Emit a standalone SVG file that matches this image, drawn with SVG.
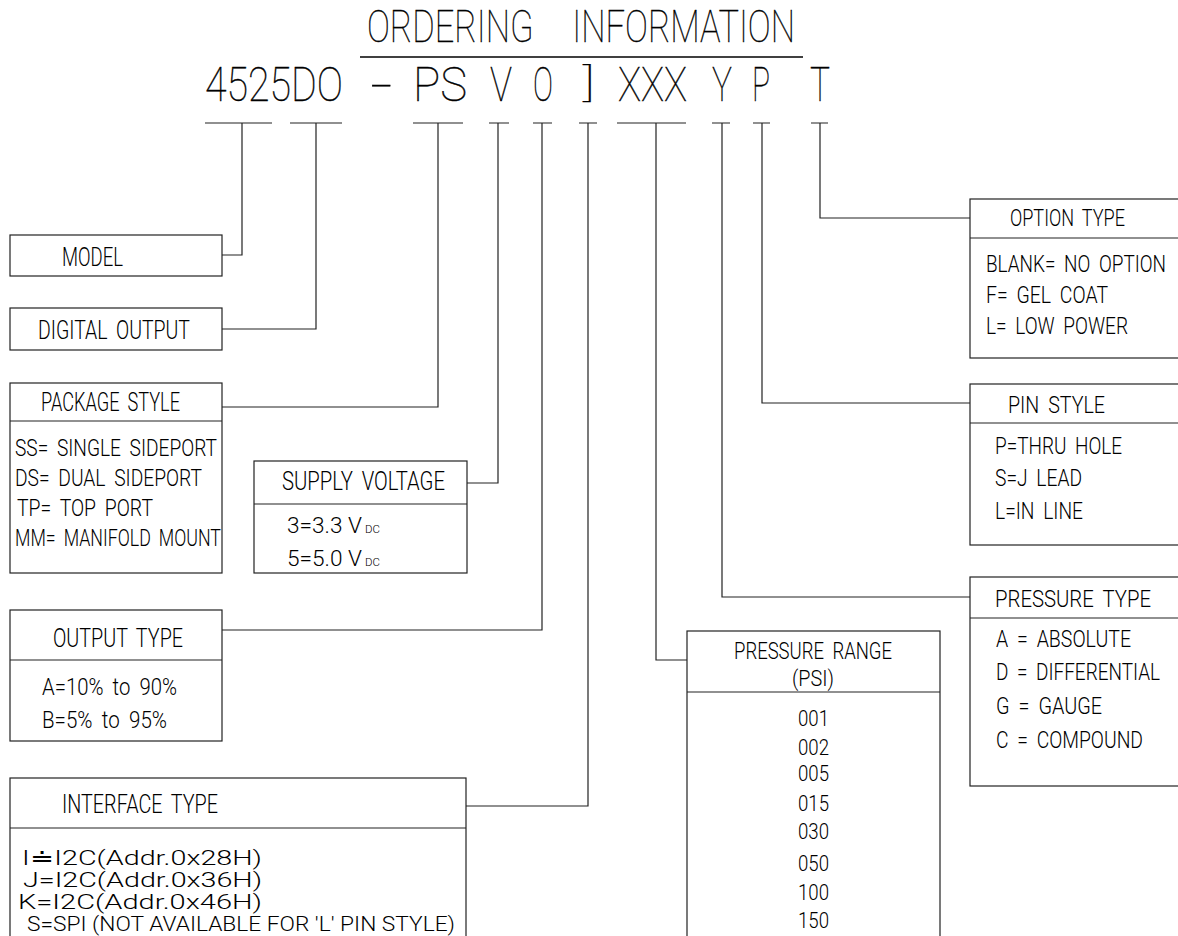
<svg xmlns="http://www.w3.org/2000/svg" width="1178" height="936" viewBox="0 0 1178 936">
<style>
text{font-family:Roboto,"Liberation Sans",sans-serif;font-weight:300;fill:#000}
.ti{font-size:45px;font-weight:100;stroke:#000;stroke-width:0.35;word-spacing:40px}
.cd{font-size:38px;font-weight:100;stroke:#000;stroke-width:0.3}
.h{font-size:26px;word-spacing:5px}
.i{font-size:24px;word-spacing:5px}
.w{font-size:19px;word-spacing:4px}
.n{font-size:22px}
.f{font-size:21px}
.s{font-size:10px}
.box rect,.box line{fill:#fff;stroke:#222;stroke-width:1.2}
#connectors path{fill:none;stroke:#222;stroke-width:1.2}
</style>
<rect width="1178" height="936" fill="#fff"/>
<g id="title">
<text class="ti" x="367" y="42" textLength="428" lengthAdjust="spacingAndGlyphs">ORDERING INFORMATION</text>
<line x1="360" y1="57" x2="803" y2="57" stroke="#000" stroke-width="1.4"/>
</g>
<g id="code">
<text class="cd" transform="translate(205 101) scale(1 1.263)" textLength="138" lengthAdjust="spacingAndGlyphs">4525DO</text>
<text class="cd" transform="translate(370 101) scale(1 1.263)" textLength="23" lengthAdjust="spacingAndGlyphs">-</text>
<text class="cd" transform="translate(413 101) scale(1 1.263)" textLength="54" lengthAdjust="spacingAndGlyphs">PS</text>
<text class="cd" transform="translate(490 101) scale(1 1.263)" textLength="22" lengthAdjust="spacingAndGlyphs">V</text>
<text class="cd" transform="translate(533 101) scale(1 1.263)" textLength="20" lengthAdjust="spacingAndGlyphs">O</text>
<text class="cd" transform="translate(583 96)" textLength="12" lengthAdjust="spacingAndGlyphs">]</text>
<text class="cd" transform="translate(618 101) scale(1 1.263)" textLength="69" lengthAdjust="spacingAndGlyphs">XXX</text>
<text class="cd" transform="translate(712 101) scale(1 1.263)" textLength="20" lengthAdjust="spacingAndGlyphs">Y</text>
<text class="cd" transform="translate(752 101) scale(1 1.263)" textLength="18" lengthAdjust="spacingAndGlyphs">P</text>
<text class="cd" transform="translate(810 101) scale(1 1.263)" textLength="20" lengthAdjust="spacingAndGlyphs">T</text>
</g>
<g id="connectors">
<path d="M205 123H272M242 123V255H222"/>
<path d="M290 123H342M316 123V329H222"/>
<path d="M413 123H463M438 123V407H222"/>
<path d="M489 123H509M498 123V483H467"/>
<path d="M533 123H552M542 123V630H222"/>
<path d="M579 123H597M588 123V806H466"/>
<path d="M617 123H686M656 123V660H687"/>
<path d="M712 123H730M722 123V597H970"/>
<path d="M753 123H770M762 123V403H970"/>
<path d="M811 123H828M820 123V218H970"/>
</g>
<g id="model" class="box">
<rect x="10" y="235" width="212" height="41"/>
<text class="h" x="62" y="266" textLength="61" lengthAdjust="spacingAndGlyphs">MODEL</text>
</g>
<g id="digital-output" class="box">
<rect x="10" y="308" width="212" height="42"/>
<text class="h" x="38" y="339" textLength="152" lengthAdjust="spacingAndGlyphs">DIGITAL OUTPUT</text>
</g>
<g id="package-style" class="box">
<rect x="10" y="383" width="212" height="190"/>
<line x1="10" y1="421" x2="222" y2="421"/>
<text class="h" x="41" y="411" textLength="139" lengthAdjust="spacingAndGlyphs">PACKAGE STYLE</text>
<text class="i" x="15" y="456" textLength="202" lengthAdjust="spacingAndGlyphs">SS= SINGLE SIDEPORT</text>
<text class="i" x="15" y="486" textLength="187" lengthAdjust="spacingAndGlyphs">DS= DUAL SIDEPORT</text>
<text class="i" x="17" y="516" textLength="136" lengthAdjust="spacingAndGlyphs">TP= TOP PORT</text>
<text class="i" x="15" y="546" textLength="206" lengthAdjust="spacingAndGlyphs">MM= MANIFOLD MOUNT</text>
</g>
<g id="supply-voltage" class="box">
<rect x="254" y="461" width="213" height="112"/>
<line x1="254" y1="504" x2="467" y2="504"/>
<text class="h" x="282" y="490" textLength="163" lengthAdjust="spacingAndGlyphs">SUPPLY VOLTAGE</text>
<text class="n" x="287" y="533" textLength="75" lengthAdjust="spacingAndGlyphs">3=3.3 V</text>
<text class="s" x="365" y="533" textLength="15" lengthAdjust="spacingAndGlyphs">DC</text>
<text class="n" x="287" y="566" textLength="75" lengthAdjust="spacingAndGlyphs">5=5.0 V</text>
<text class="s" x="365" y="566" textLength="15" lengthAdjust="spacingAndGlyphs">DC</text>
</g>
<g id="output-type" class="box">
<rect x="10" y="610" width="212" height="131"/>
<line x1="10" y1="660" x2="222" y2="660"/>
<text class="h" x="53" y="647" textLength="130" lengthAdjust="spacingAndGlyphs">OUTPUT TYPE</text>
<text class="i" x="42" y="695" textLength="135" lengthAdjust="spacingAndGlyphs">A=10% to 90%</text>
<text class="i" x="42" y="728" textLength="125" lengthAdjust="spacingAndGlyphs">B=5% to 95%</text>
</g>
<g id="interface-type" class="box">
<rect x="10" y="778" width="456" height="200"/>
<line x1="10" y1="828" x2="466" y2="828"/>
<text class="h" x="62" y="813" textLength="156" lengthAdjust="spacingAndGlyphs">INTERFACE TYPE</text>
<text class="f" x="22" y="865" textLength="240" lengthAdjust="spacingAndGlyphs">I≐I2C(Addr.0x28H)</text>
<text class="f" x="23" y="887" textLength="239" lengthAdjust="spacingAndGlyphs">J=I2C(Addr.0x36H)</text>
<text class="f" x="18" y="909" textLength="244" lengthAdjust="spacingAndGlyphs">K=I2C(Addr.0x46H)</text>
<text class="f" x="27" y="931" textLength="428" lengthAdjust="spacingAndGlyphs">S=SPI (NOT AVAILABLE FOR 'L' PIN STYLE)</text>
</g>
<g id="pressure-range" class="box">
<rect x="687" y="631" width="253" height="400"/>
<line x1="687" y1="692" x2="940" y2="692"/>
<text class="i" x="734" y="659" textLength="158" lengthAdjust="spacingAndGlyphs">PRESSURE RANGE</text>
<text class="n" x="792" y="686" textLength="42" lengthAdjust="spacingAndGlyphs">(PSI)</text>
<text class="n" x="798" y="726" textLength="31" lengthAdjust="spacingAndGlyphs">001</text>
<text class="n" x="798" y="755" textLength="31" lengthAdjust="spacingAndGlyphs">002</text>
<text class="n" x="798" y="781" textLength="31" lengthAdjust="spacingAndGlyphs">005</text>
<text class="n" x="798" y="811" textLength="31" lengthAdjust="spacingAndGlyphs">015</text>
<text class="n" x="798" y="839" textLength="31" lengthAdjust="spacingAndGlyphs">030</text>
<text class="n" x="798" y="871" textLength="31" lengthAdjust="spacingAndGlyphs">050</text>
<text class="n" x="798" y="900" textLength="31" lengthAdjust="spacingAndGlyphs">100</text>
<text class="n" x="798" y="928" textLength="31" lengthAdjust="spacingAndGlyphs">150</text>
</g>
<g id="option-type" class="box">
<rect x="970" y="199" width="260" height="159"/>
<line x1="970" y1="238" x2="1230" y2="238"/>
<text class="i" x="1010" y="226" textLength="115" lengthAdjust="spacingAndGlyphs">OPTION TYPE</text>
<text class="w" transform="translate(986 272) scale(1 1.27)" textLength="180" lengthAdjust="spacingAndGlyphs">BLANK= NO OPTION</text>
<text class="i" x="986" y="303" textLength="122" lengthAdjust="spacingAndGlyphs">F= GEL COAT</text>
<text class="i" x="986" y="334" textLength="142" lengthAdjust="spacingAndGlyphs">L= LOW POWER</text>
</g>
<g id="pin-style" class="box">
<rect x="970" y="384" width="260" height="161"/>
<line x1="970" y1="423" x2="1230" y2="423"/>
<text class="i" x="1008" y="413" textLength="97" lengthAdjust="spacingAndGlyphs">PIN STYLE</text>
<text class="i" x="995" y="454" textLength="127" lengthAdjust="spacingAndGlyphs">P=THRU HOLE</text>
<text class="i" x="995" y="486" textLength="87" lengthAdjust="spacingAndGlyphs">S=J LEAD</text>
<text class="i" x="995" y="519" textLength="88" lengthAdjust="spacingAndGlyphs">L=IN LINE</text>
</g>
<g id="pressure-type" class="box">
<rect x="970" y="577" width="260" height="209"/>
<line x1="970" y1="618" x2="1230" y2="618"/>
<text class="i" x="995" y="607" textLength="156" lengthAdjust="spacingAndGlyphs">PRESSURE TYPE</text>
<text class="i" x="996" y="647" textLength="135" lengthAdjust="spacingAndGlyphs">A = ABSOLUTE</text>
<text class="w" transform="translate(996 680) scale(1 1.27)" textLength="164" lengthAdjust="spacingAndGlyphs">D = DIFFERENTIAL</text>
<text class="i" x="996" y="714" textLength="106" lengthAdjust="spacingAndGlyphs">G = GAUGE</text>
<text class="i" x="996" y="748" textLength="147" lengthAdjust="spacingAndGlyphs">C = COMPOUND</text>
</g>
</svg>
